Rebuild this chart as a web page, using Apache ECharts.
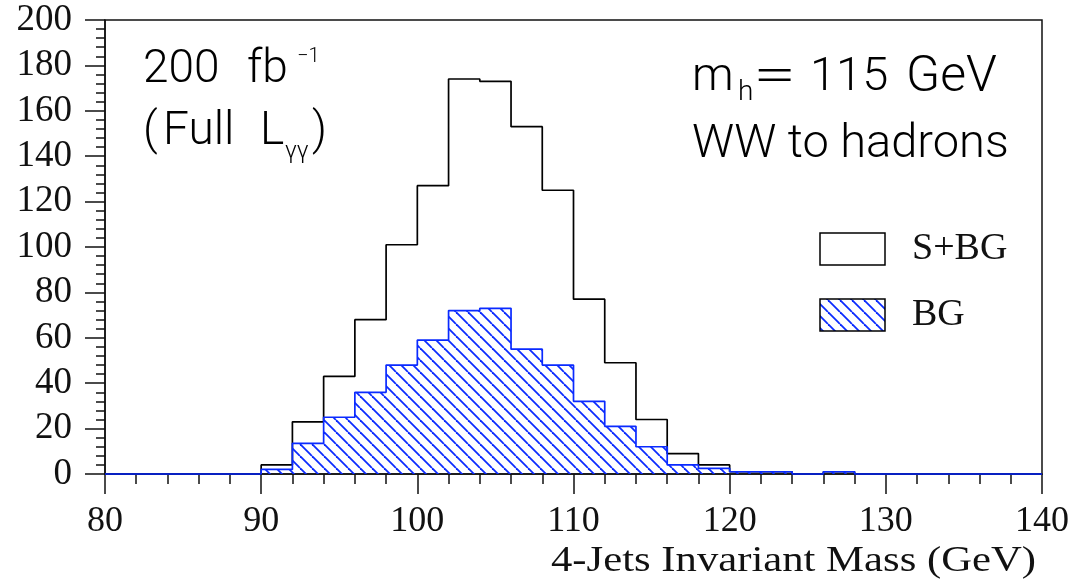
<!DOCTYPE html>
<html><head><meta charset="utf-8">
<script src="https://cdn.jsdelivr.net/npm/echarts@6/dist/echarts.min.js"></script>
<style>html,body{margin:0;padding:0;background:#fff}#c{width:1089px;height:586px}</style>
</head><body><div id="c"></div>
<script>
// Bin edges (GeV), 2 GeV bins from 80 to 140
const binEdges = [80,82,84,86,88,90,92,94,96,98,100,102,104,106,108,110,112,114,116,118,120,122,124,126,128,130,132,134,136,138,140];
// Events per bin: signal + background
const sigPlusBg = [0,0,0,0,0,4,23,43,68,101,127,174,173,153,125,77,49,24,9,4,1,1,0,1,0,0,0,0,0,0];
// Events per bin: background only
const bgOnly = [0,0,0,0,0,2,13.5,25,36,48,59,72,73,55,48,32,21,12,4,2.5,1,1,0,1,0,0,0,0,0,0];
const legendNames = ['S+BG','BG'];
const xTitle = '4-Jets Invariant Mass (GeV)';

const BLUE = '#0a2aff';
function makeHatch(){
  const s = 12, c = document.createElement('canvas');
  c.width = s; c.height = s;
  const ctx = c.getContext('2d');
  ctx.strokeStyle = BLUE; ctx.lineWidth = 1.8;
  for (let k = -1; k <= 1; k++) { ctx.beginPath(); ctx.moveTo(k*s, 0); ctx.lineTo(k*s + s, s); ctx.stroke(); }
  return c;
}
const hatch = makeHatch();
function stepData(vals){
  const d = vals.map((v,i)=>[binEdges[i], v]);
  d.push([binEdges[vals.length], vals[vals.length-1]]);
  return d;
}
const SANS = 'Roboto';
function t(text, x, y, size, opts){
  return Object.assign({type:'text', x:x, y:y, silent:true, z:10,
    style:{text:text, font:'300 '+size+'px '+SANS, fill:'#000', textAlign:'left', textVerticalAlign:'middle', verticalAlign:'middle'}}, opts||{});
}
const SERIF = 'Liberation Serif';
const chart = echarts.init(document.getElementById('c'), null, {renderer:'canvas'});
chart.setOption({
  animation:false,
  backgroundColor:'#fff',
  grid:{left:105, right:47, top:20, bottom:112, show:true, borderColor:'#111', borderWidth:1.5, backgroundColor:'transparent'},
  xAxis:{type:'value', min:80, max:140, interval:10,
    axisLine:{lineStyle:{color:'#111', width:1.5}},
    axisTick:{length:20, lineStyle:{color:'#111', width:1.5}},
    minorTick:{show:true, splitNumber:5, length:10, lineStyle:{color:'#111', width:1.5}},
    splitLine:{show:false},
    axisLabel:{fontFamily:SERIF, fontSize:36, color:'#111', margin:30}},
  yAxis:{type:'value', min:0, max:200, interval:20,
    axisLine:{show:true, lineStyle:{color:'#111', width:1.5}},
    axisTick:{show:true, length:20, lineStyle:{color:'#111', width:1.5}},
    minorTick:{show:true, splitNumber:5, length:9, lineStyle:{color:'#111', width:1.5}},
    splitLine:{show:false},
    axisLabel:{fontFamily:SERIF, fontSize:37, color:'#111', margin:33}},
  series:[
    {name:legendNames[0], type:'line', step:'end', data:stepData(sigPlusBg), symbol:'none', clip:false,
     lineStyle:{color:'#000', width:1.7}, z:3},
    {name:legendNames[1], type:'line', step:'end', data:stepData(bgOnly), symbol:'none', clip:false,
     lineStyle:{color:BLUE, width:1.7}, areaStyle:{color:{image:hatch, repeat:'repeat'}, opacity:1}, z:4}
  ],
  graphic:[
    t('200', 143, 70, 46), t('fb', 247, 70, 46), t('\u22121', 297, 57, 20),
    t('(', 143, 132, 46), t('Full', 163, 132, 46), t('L', 260, 132, 46), t('\u03b3\u03b3', 285, 152, 24), t(')', 312, 132, 46),
    t('m', 692, 78, 47), t('h', 738, 93, 28), t('=', 753, 78, 46, {scaleX:1.7}), t('115', 810, 78, 47), t('GeV', 906, 78, 50),
    t('WW to hadrons', 692, 145, 47),
    {type:'rect', shape:{x:820, y:233, width:65, height:32}, style:{fill:'#fff', stroke:'#000', lineWidth:1.5}, z:10},
    {type:'rect', shape:{x:820, y:299, width:65, height:32}, style:{fill:{image:hatch, repeat:'repeat'}, stroke:'#000', lineWidth:1.5}, z:10},
    {type:'text', x:912, y:249, z:10, style:{text:legendNames[0], font:'38px '+SERIF, fill:'#111', textVerticalAlign:'middle', verticalAlign:'middle'}},
    {type:'text', x:912, y:315, z:10, style:{text:legendNames[1], font:'38px '+SERIF, fill:'#111', textVerticalAlign:'middle', verticalAlign:'middle'}},
    {type:'text', x:1036, y:562, scaleX:1.22, z:10, style:{text:xTitle, font:'35px '+SERIF, fill:'#111', textAlign:'right', textVerticalAlign:'middle', verticalAlign:'middle'}}
  ]
});
</script></body></html>
